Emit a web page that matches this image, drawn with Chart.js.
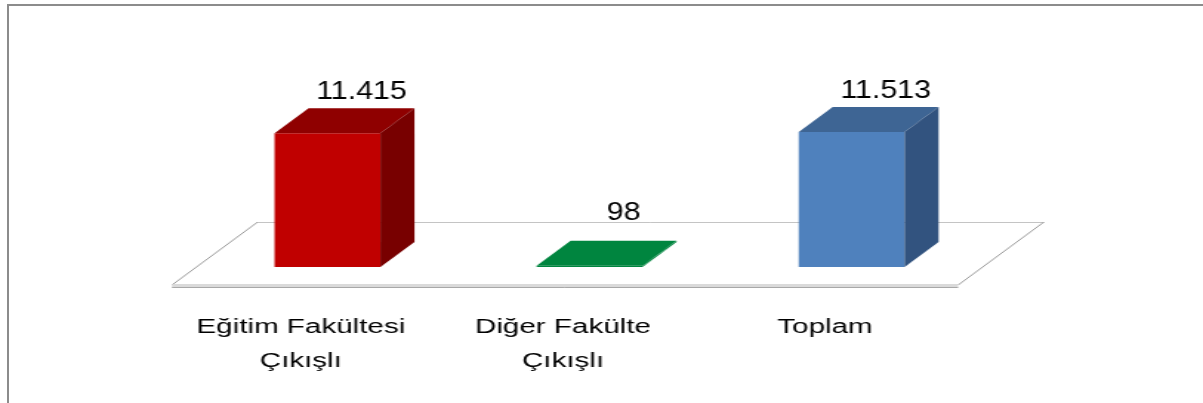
<!DOCTYPE html>
<html><head><meta charset="utf-8">
<script src="https://cdn.jsdelivr.net/npm/chart.js@4.4.1/dist/chart.umd.min.js"></script>
<style>
html,body{margin:0;padding:0;background:#fff;width:1203px;height:403px;overflow:hidden;position:relative}
#frame{position:absolute;left:7px;top:4px;width:1300px;height:500px;border-top:2px solid #8c8c8c;border-left:2px solid #8c8c8c;}
#wrap{position:absolute;left:0;top:0;width:813px;height:403px;transform:scaleX(1.4797);transform-origin:0 0;}
</style></head><body>
<div id="frame"></div>
<div id="wrap"><canvas id="c"></canvas></div>
<script>
// ---- data ----
const categories = [['Eğitim Fakültesi', 'Çıkışlı'], ['Diğer Fakülte', 'Çıkışlı'], ['Toplam']];
const values = [11415, 98, 11513];
const frontColors = ['#C00000', '#00853F', '#4F81BD'];
const topColors = ['#8F0000', '#00853F', '#3E6594'];
const sideColors = ['#780000', '#00853F', '#32537F'];

// ---- 3D look settings ----
const depth = { dx: 23, dy: -25 };
const floorFront = 0.72, floorBack = 1.8;

function fmtTR(v) {
  return String(v).replace(/\B(?=(\d{3})+(?!\d))/g, '.');
}

const bar3d = {
  id: 'bar3d',
  beforeDatasetsDraw(chart) {
    const { ctx, chartArea: a, scales: { y } } = chart;
    const y0 = y.getPixelForValue(0);
    const p = (x, d) => [x + depth.dx * d, y0 + depth.dy * d];
    const fl = p(a.left, -floorFront), fr = p(a.right, -floorFront);
    const br = p(a.right, floorBack), bl = p(a.left, floorBack);
    ctx.save();
    ctx.fillStyle = '#ffffff';
    ctx.beginPath();
    ctx.moveTo(fl[0], fl[1]); ctx.lineTo(fr[0], fr[1]); ctx.lineTo(br[0], br[1]); ctx.lineTo(bl[0], bl[1]);
    ctx.closePath(); ctx.fill();
    ctx.lineWidth = 1;
    ctx.strokeStyle = '#c4c4c4';
    ctx.beginPath(); ctx.moveTo(bl[0], bl[1] + 0.5); ctx.lineTo(br[0], br[1] + 0.5); ctx.stroke();
    ctx.strokeStyle = '#9a9a9a';
    ctx.beginPath(); ctx.moveTo(fl[0], fl[1]); ctx.lineTo(bl[0], bl[1]); ctx.stroke();
    ctx.beginPath(); ctx.moveTo(fr[0], fr[1]); ctx.lineTo(br[0], br[1]); ctx.stroke();
    ctx.fillStyle = '#dadada';
    ctx.fillRect(fl[0], fl[1] - 1, fr[0] - fl[0], 3);
    ctx.strokeStyle = '#a8a8a8';
    ctx.beginPath(); ctx.moveTo(fl[0], fl[1] + 2.5); ctx.lineTo(fr[0], fr[1] + 2.5); ctx.stroke();
    ctx.restore();
  },
  afterDatasetsDraw(chart) {
    const { ctx, scales: { y } } = chart;
    const y0 = y.getPixelForValue(0);
    const floorBackY = y0 + depth.dy * floorBack;
    const meta = chart.getDatasetMeta(0);
    ctx.save();
    meta.data.forEach((bar, i) => {
      const { x, y: top, base, width } = bar.getProps(['x', 'y', 'base', 'width'], true);
      const l = x - width / 2, r = x + width / 2;
      const dx = depth.dx, dy = depth.dy;
      ctx.fillStyle = topColors[i];
      ctx.beginPath();
      ctx.moveTo(l, top); ctx.lineTo(r, top); ctx.lineTo(r + dx, top + dy); ctx.lineTo(l + dx, top + dy);
      ctx.closePath(); ctx.fill();
      ctx.fillStyle = sideColors[i];
      ctx.beginPath();
      ctx.moveTo(r, top); ctx.lineTo(r + dx, top + dy); ctx.lineTo(r + dx, base + dy); ctx.lineTo(r, base);
      ctx.closePath(); ctx.fill();
      // value label (slightly condensed, like the original)
      const ly = Math.min(top + dy - 9, floorBackY - 2);
      ctx.save();
      ctx.translate(x + dx, ly);
      ctx.scale(0.82, 1);
      ctx.fillStyle = '#000000';
      ctx.font = "25px 'Liberation Sans', Arial, sans-serif";
      ctx.textAlign = 'center';
      ctx.textBaseline = 'alphabetic';
      ctx.fillText(fmtTR(values[i]), 0, 0);
      ctx.restore();
    });
    ctx.restore();
  }
};

new Chart(document.getElementById('c'), {
  type: 'bar',
  data: {
    labels: categories,
    datasets: [{
      data: values,
      backgroundColor: frontColors,
      borderWidth: 0,
      categoryPercentage: 1,
      barPercentage: 0.404
    }]
  },
  options: {
    responsive: true,
    maintainAspectRatio: false,
    animation: false,
    layout: { padding: { left: 132.75, right: 148.9, top: 56, bottom: 0 } },
    plugins: { legend: { display: false }, tooltip: { enabled: false } },
    scales: {
      y: { display: false, min: 0, max: 18000 },
      x: {
        position: 'bottom',
        grid: { display: false },
        border: { display: false },
        ticks: {
          color: '#000000',
          font: { family: "'Liberation Sans', Arial, sans-serif", size: 20, lineHeight: 1.7 },
          padding: 35,
          labelOffset: -18,
          maxRotation: 0,
          autoSkip: false
        },
        afterFit(scale) { scale.height = 136; }
      }
    }
  },
  plugins: [bar3d]
});
</script>
</body></html>
